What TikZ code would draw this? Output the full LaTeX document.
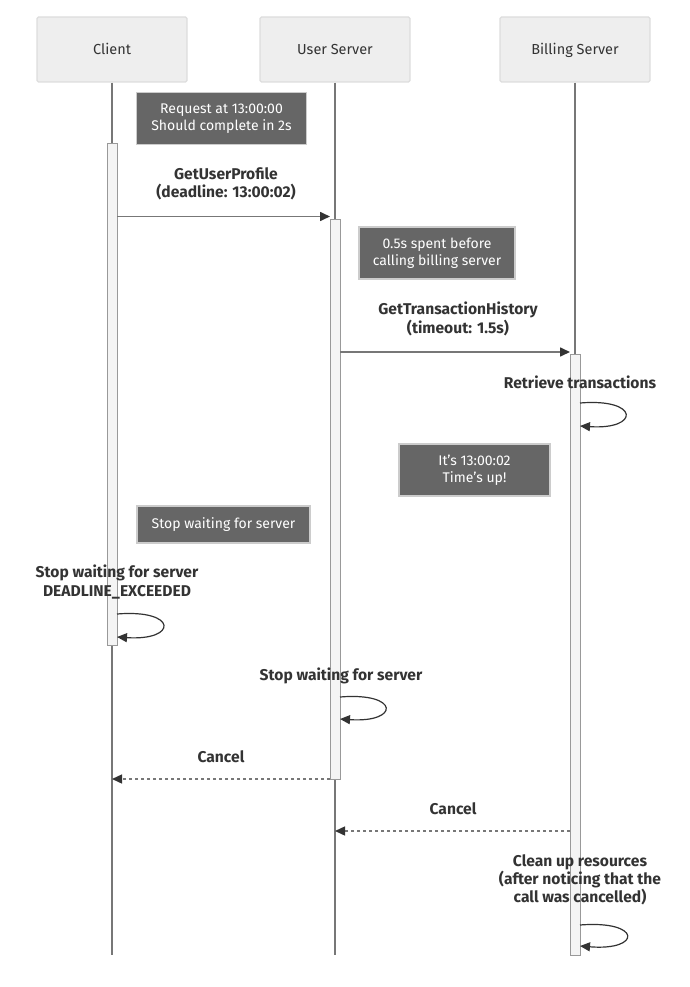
\documentclass[tikz,border=0pt]{standalone}
\usepackage{fontspec}
\setmainfont{Fira Sans}
\usetikzlibrary{arrows.meta}
\definecolor{actorfill}{HTML}{EEEEEE}
\definecolor{actordraw}{HTML}{DDDDDD}
\definecolor{notefill}{HTML}{666666}
\definecolor{notedraw}{HTML}{CCCCCC}
\definecolor{linegray}{HTML}{777777}
\definecolor{txt}{HTML}{333333}
\definecolor{barfill}{HTML}{F4F4F4}
\definecolor{bardraw}{HTML}{999999}
\tikzset{
  actor/.style={draw=actordraw, line width=1.2pt, fill=actorfill, rounded corners=1.5pt,
    minimum width=150pt, minimum height=65pt, text=txt, text height=10.5pt, text depth=0pt,
    font=\fontsize{14.5}{16}\selectfont},
  note/.style={draw=notedraw, line width=1.5pt, fill=notefill, text=white, align=center,
    font=\fontsize{14}{17}\selectfont, inner sep=0pt},
  lbl/.style={text=txt, align=center, font=\bfseries\fontsize{15.6}{18.3}\selectfont},
  life/.style={draw=linegray, line width=1.4pt},
  bar/.style={draw=bardraw, line width=1pt, fill=barfill},
  msg/.style={draw=linegray, line width=1.6pt, -{Triangle[length=10pt,width=9pt]}, arrows={[color=txt]}},
  loopmsg/.style={draw=txt, line width=1.2pt, -{Triangle[length=10pt,width=9pt]}},
  dmsg/.style={msg, dash pattern=on 3pt off 3pt, line width=1.4pt},
}
\begin{document}
\begin{tikzpicture}[x=1pt,y=-1pt]
\useasboundingbox (0,0) rectangle (690,987);
% actors
\node[actor] (client) at (112,49.5) {Client};
\node[actor] (user) at (335,49.5) {User Server};
\node[actor] (billing) at (575,49.5) {Billing Server};
% lifeline ends
\coordinate (cend) at (112,955);
\coordinate (uend) at (335,955);
\coordinate (bend) at (575,955);
\draw[life] (client.south) -- (cend);
\draw[life] (user.south) -- (uend);
\draw[life] (billing.south) -- (bend);
% activation bars
\draw[bar] (107,144) rectangle (117,645);
\draw[bar] (330,219) rectangle (340,779);
\draw[bar] (570,354) rectangle (580,955);
% notes
\node[note, minimum width=170pt, minimum height=52pt] (n1) at (221.5,118.5) {Request at 13:00:00\\Should complete in 2s};
\node[note, minimum width=156pt, minimum height=52pt] (n2) at (437,253) {0.5s spent before\\calling billing server};
\node[note, minimum width=151pt, minimum height=52pt] (n3) at (474.5,470) {It's 13:00:02\\Time's up!};
\node[note, minimum width=173pt, minimum height=37pt] (n4) at (223.5,524.5) {Stop waiting for server};
% message 1
\coordinate (m1a) at (117,216.5);
\coordinate (m1b) at (330,216.5);
\node[lbl] (l1) at (226,184) {GetUserProfile\\(deadline: 13:00:02)};
\draw[msg] (m1a) -- (m1b);
% message 2
\coordinate (m2a) at (340,352);
\coordinate (m2b) at (570,352);
\node[lbl] (l2) at (458,319) {GetTransactionHistory\\(timeout: 1.5s)};
\draw[msg] (m2a) -- (m2b);
% self loop billing
\node[lbl] (l3) at (580,382) {Retrieve transactions};
\coordinate (s1a) at (580,403);
\coordinate (s1b) at (580,426);
\draw[loopmsg] (s1a) .. controls (640,398) and (640,430) .. (s1b);
% self loop client
\node[lbl] (l4) at (117,582) {Stop waiting for server\\DEADLINE\_EXCEEDED};
\coordinate (s2a) at (117,614);
\coordinate (s2b) at (117,637);
\draw[loopmsg] (s2a) .. controls (178,609) and (178,641) .. (s2b);
% self loop user
\node[lbl] (l5) at (341,676) {Stop waiting for server};
\coordinate (s3a) at (340,697);
\coordinate (s3b) at (340,719);
\draw[loopmsg] (s3a) .. controls (400,692) and (400,723) .. (s3b);
% cancel 1
\node[lbl] (l6) at (221,757) {Cancel};
\coordinate (c1a) at (330,779);
\coordinate (c1b) at (112,779);
\draw[dmsg] (c1a) -- (c1b);
% cancel 2
\node[lbl] (l7) at (453,809) {Cancel};
\coordinate (c2a) at (570,831);
\coordinate (c2b) at (335,831);
\draw[dmsg] (c2a) -- (c2b);
% cleanup
\node[lbl] (l8) at (580,880) {Clean up resources\\(after noticing that the\\call was cancelled)};
\coordinate (s4a) at (580,925);
\coordinate (s4b) at (580,946);
\draw[loopmsg] (s4a) .. controls (642,920) and (642,951) .. (s4b);
\end{tikzpicture}
\end{document}
